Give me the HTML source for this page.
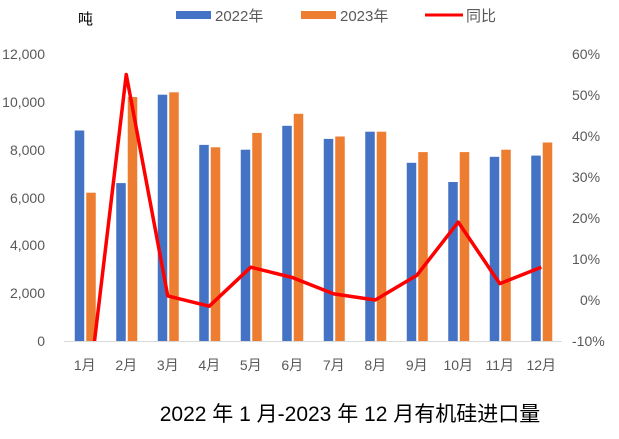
<!DOCTYPE html>
<html><head><meta charset="utf-8"><style>
body{margin:0;background:#fff;}
text{font-family:"Liberation Sans","Noto Sans CJK SC",sans-serif;fill:#595959;font-size:14px;}
</style></head><body>
<svg width="619" height="434" xmlns="http://www.w3.org/2000/svg">
<rect width="619" height="434" fill="#fff"/>
<text x="78" y="24" style="fill:#000;font-size:15px">吨</text>
<rect x="176" y="11" width="35" height="8" fill="#4472C4"/>
<text x="215" y="21" style="font-size:15px">2022年</text>
<rect x="301" y="11" width="35" height="8" fill="#ED7D31"/>
<text x="340" y="21" style="font-size:15px">2023年</text>
<line x1="425" y1="15" x2="463" y2="15" stroke="#FF0000" stroke-width="3"/>
<text x="466" y="21" style="font-size:15px">同比</text>
<g text-anchor="end">
<text x="45" y="346">0</text><text x="45" y="298">2,000</text><text x="45" y="250">4,000</text>
<text x="45" y="203">6,000</text><text x="45" y="155">8,000</text><text x="45" y="107">10,000</text><text x="45" y="59">12,000</text>
</g>
<g text-anchor="start">
<text x="572" y="346">-10%</text><text x="580" y="305">0%</text><text x="572" y="264">10%</text>
<text x="572" y="223">20%</text><text x="572" y="182">30%</text><text x="572" y="141">40%</text>
<text x="572" y="100">50%</text><text x="572" y="59">60%</text>
</g>
<line x1="64" y1="341.5" x2="562" y2="341.5" stroke="#d9d9d9"/>
<g fill="#4472C4">
<rect x="74.75" y="130.5" width="9.5" height="210.5"/>
<rect x="116.25" y="183.1" width="9.5" height="157.9"/>
<rect x="157.75" y="94.7" width="9.5" height="246.3"/>
<rect x="199.25" y="144.9" width="9.5" height="196.1"/>
<rect x="240.75" y="149.7" width="9.5" height="191.3"/>
<rect x="282.25" y="125.8" width="9.5" height="215.2"/>
<rect x="323.75" y="138.9" width="9.5" height="202.1"/>
<rect x="365.25" y="131.7" width="9.5" height="209.3"/>
<rect x="406.75" y="162.8" width="9.5" height="178.2"/>
<rect x="448.25" y="182.0" width="9.5" height="159.0"/>
<rect x="489.75" y="156.8" width="9.5" height="184.2"/>
<rect x="531.25" y="155.6" width="9.5" height="185.4"/>
</g>
<g fill="#ED7D31">
<rect x="86.25" y="192.7" width="9.5" height="148.3"/>
<rect x="127.75" y="97.0" width="9.5" height="244.0"/>
<rect x="169.25" y="92.3" width="9.5" height="248.7"/>
<rect x="210.75" y="147.3" width="9.5" height="193.7"/>
<rect x="252.25" y="132.9" width="9.5" height="208.1"/>
<rect x="293.75" y="113.8" width="9.5" height="227.2"/>
<rect x="335.25" y="136.5" width="9.5" height="204.5"/>
<rect x="376.75" y="131.7" width="9.5" height="209.3"/>
<rect x="418.25" y="152.1" width="9.5" height="188.9"/>
<rect x="459.75" y="152.1" width="9.5" height="188.9"/>
<rect x="501.25" y="149.7" width="9.5" height="191.3"/>
<rect x="542.75" y="142.5" width="9.5" height="198.5"/>
</g>
<clipPath id="cp"><rect x="60" y="40" width="510" height="301"/></clipPath>
<polyline clip-path="url(#cp)" points="84.75,423 126.25,74.5 167.75,295.9 209.25,306.2 250.75,267.2 292.25,277.5 333.75,293.9 375.25,300 416.75,275.4 458.25,222.1 499.75,283.6 541.25,267.2" fill="none" stroke="#FF0000" stroke-width="3.5" stroke-linejoin="round"/>
<g text-anchor="middle">
<text x="84.75" y="370">1月</text><text x="126.25" y="370">2月</text><text x="167.75" y="370">3月</text>
<text x="209.25" y="370">4月</text><text x="250.75" y="370">5月</text><text x="292.25" y="370">6月</text>
<text x="333.75" y="370">7月</text><text x="375.25" y="370">8月</text><text x="416.75" y="370">9月</text>
<text x="458.25" y="370">10月</text><text x="499.75" y="370">11月</text><text x="541.25" y="370">12月</text>
</g>
<text x="350" y="421" text-anchor="middle" style="fill:#000;font-size:21px">2022 年 1 月-2023 年 12 月有机硅进口量</text>
</svg>
</body></html>
